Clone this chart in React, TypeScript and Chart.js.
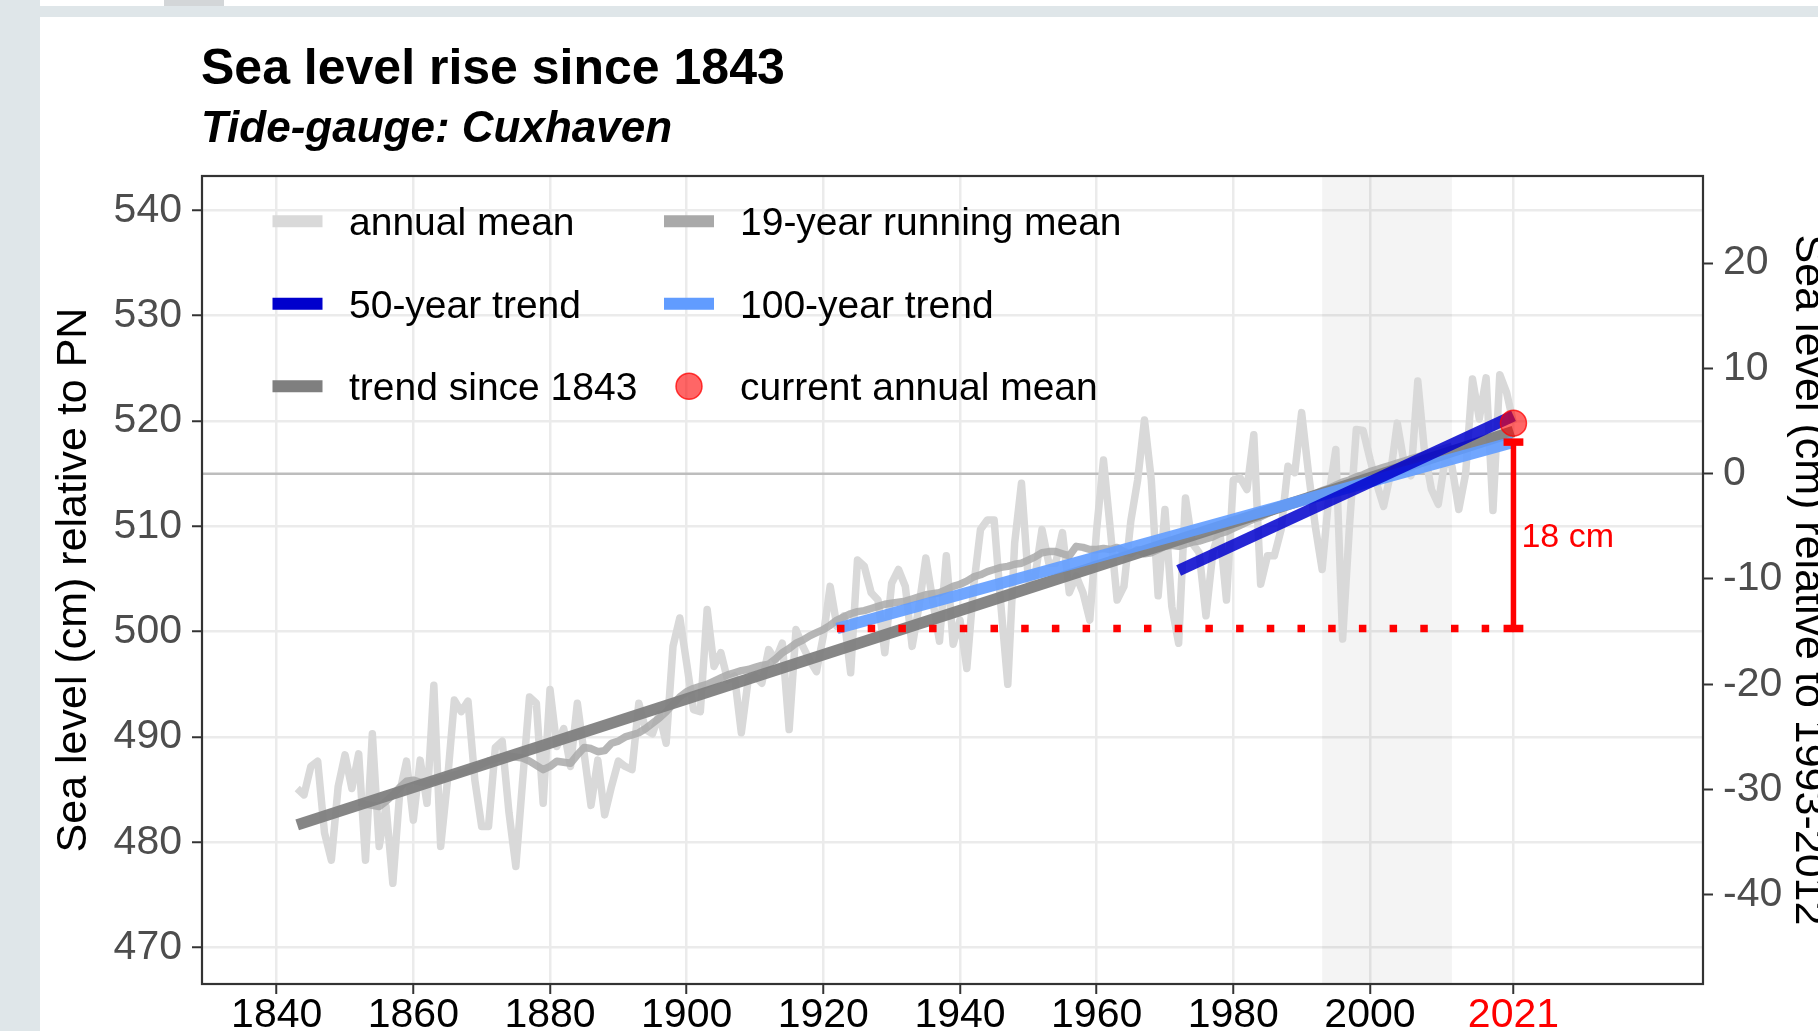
import React, { useEffect, useRef } from 'react';
import { Chart, registerables } from 'chart.js';

Chart.register(...registerables);

// ---------------- data ----------------
const ANNUAL_START = 1843;
const annualMean = [
  485.1, 484.5, 487.2, 487.7, 480.9, 478.3, 485.3,
  488.3, 485.1, 488.4, 478.3, 490.3, 479.6, 483.4, 476.1, 484.7, 487.7,
  482.1, 487.8, 483.7, 494.9, 479.6, 485.9, 493.5, 492.4, 493.4, 485.9,
  481.5, 481.5, 489.0, 489.6, 482.8, 477.7, 485.9, 493.8, 493.2, 483.7,
  494.5, 489.1, 490.8, 487.2, 493.2, 488.4, 483.5, 487.8, 482.6, 485.3,
  487.7, 487.2, 486.9, 493.2, 490.7, 490.3, 492.2, 489.4, 498.6, 501.3,
  497.0, 492.6, 492.4, 502.1, 496.7, 498.0, 495.4, 495.8, 490.4, 495.4,
  495.8, 495.1, 498.3, 497.3, 498.9, 490.7, 500.2, 498.6, 497.3, 496.2,
  499.6, 504.3, 500.5, 501.5, 496.1, 506.8, 506.2, 503.7, 503.0, 498.0,
  504.6, 505.9, 504.3, 498.6, 502.4, 507.0, 503.0, 499.1, 507.2, 498.8,
  501.1, 496.5, 504.3, 509.7, 510.6, 510.6, 502.4, 495.0, 508.4, 514.1,
  504.9, 505.3, 509.7, 506.5, 506.5, 509.4, 503.7, 505.3, 503.7, 501.1,
  509.7, 516.3, 509.7, 503.0, 504.3, 510.5, 514.4, 520.1, 514.4, 503.4,
  511.6, 502.4, 498.9, 512.7, 508.4, 507.5, 501.5, 507.5, 509.7, 503.0,
  514.4, 514.6, 513.5, 518.7, 504.5, 507.2, 507.2, 509.7, 515.7, 515.1,
  520.8, 515.1, 510.0, 505.9, 513.0, 517.3, 499.3, 510.0, 519.2, 519.1,
  516.4, 514.0, 511.9, 515.0, 519.8, 516.0, 514.8, 523.8, 517.0, 513.5,
  512.1, 516.4, 515.7, 511.6, 515.0, 524.0, 520.2, 524.1, 511.5, 524.4,
  522.7, 519.8,
];

const RUNNING_START = 1852;
const runningMean = [
  483.8, 483.6, 483.5, 483.4, 483.9, 484.5, 485.2, 485.8,
  485.9, 485.7, 485.6, 485.8, 486.0, 486.2, 486.4, 486.6, 486.8, 487.1,
  487.4, 487.7, 487.9, 488.1, 488.2, 488.1, 488.0, 487.7, 487.3, 486.9,
  487.2, 487.7, 487.6, 487.5, 488.3, 489.0, 488.9, 488.6, 488.7, 489.4,
  489.6, 490.0, 490.2, 490.4, 490.8, 491.3, 491.8, 492.4, 493.1, 493.8,
  494.3, 494.6, 494.8, 495.0, 495.3, 495.6, 495.9, 496.1, 496.3, 496.4,
  496.6, 496.8, 496.9, 497.4, 498.0, 498.4, 498.9, 499.2, 499.6, 499.9,
  500.2, 500.6, 501.1, 501.4, 501.7, 501.9, 502.0, 502.2, 502.4, 502.6,
  502.7, 502.8, 502.9, 503.1, 503.3, 503.5, 503.6, 503.7, 504.0, 504.3,
  504.5, 504.8, 505.2, 505.4, 505.7, 505.9, 506.1, 506.2, 506.4, 506.5,
  506.8, 507.1, 507.5, 507.6, 507.6, 507.4, 507.2, 508.1, 508.0, 507.8,
  507.8, 507.9, 507.8, 508.0, 507.6, 507.4, 507.8, 507.4, 507.5, 507.8,
  508.1, 508.2, 508.1, 508.3, 508.5, 508.6, 508.8, 509.0, 509.3, 509.5,
  509.8, 510.1, 510.4, 510.7, 510.9, 511.2, 511.5, 511.8, 512.1, 512.3,
  512.6, 512.9, 513.1, 513.4, 513.6, 513.9, 514.2, 514.4, 514.7, 514.9,
  515.2, 515.4, 515.6, 515.8, 516.0, 516.2, 516.4, 516.6, 516.8, 517.0,
  517.2, 517.4, 517.6,
];

const trendSinceYears = [1843, 2021];
const trendSinceValues = [481.65, 519.0];
const trend100Years = [1922, 2021];
const trend100Values = [500.3, 518.0];
const trend50Years = [1972, 2021];
const trend50Values = [505.8, 520.5];

const currentYear = 2021;
const currentValue = 519.8;
const riseLabel = '18 cm';

const referencePeriod = [1993, 2012];
const referenceLevel = 515; // 0 on the right axis (1993-2012 mean, PN scale)

const xTicks = [1840, 1860, 1880, 1900, 1920, 1940, 1960, 1980, 2000, 2021];
const yTicks = [470, 480, 490, 500, 510, 520, 530, 540];
const y2Ticks = [-40, -30, -20, -10, 0, 10, 20];

const legendItems = [
  { label: 'annual mean', kind: 'line', color: '#d9d9d9' },
  { label: '19-year running mean', kind: 'line', color: '#a9a9a9' },
  { label: '50-year trend', kind: 'line', color: '#0000cd' },
  { label: '100-year trend', kind: 'line', color: '#619cff' },
  { label: 'trend since 1843', kind: 'line', color: '#7f7f7f' },
  { label: 'current annual mean', kind: 'point', color: 'rgba(255,0,0,0.6)' },
];

// ---------------- layout / style ----------------
const W = 1818;
const H = 1031;
const X_MIN = 1829.07;
const X_MAX = 2048.74;
const Y_MIN = 466.54;
const Y_MAX = 543.27;
const FONT = '"Liberation Sans", Arial, Helvetica, sans-serif';
const CAP_HALF_YEARS = 1.45;

const pagePlugin = {
  id: 'pagePlugin',
  beforeDraw(chart: any) {
    const ctx = chart.ctx;
    ctx.save();
    ctx.fillStyle = '#ffffff';
    ctx.fillRect(0, 0, chart.width, chart.height);
    ctx.fillStyle = '#dfe6e9';
    ctx.fillRect(0, 0, 40, chart.height);
    ctx.fillRect(40, 6, chart.width - 40, 11);
    ctx.fillStyle = '#d3d6d8';
    ctx.fillRect(164, 0, 60, 6);
    ctx.restore();
  },
  beforeDatasetsDraw(chart: any) {
    const { ctx, chartArea: a, scales } = chart;
    const x = scales.x;
    const y = scales.y;
    ctx.save();
    ctx.beginPath();
    ctx.rect(a.left, a.top, a.right - a.left, a.bottom - a.top);
    ctx.clip();
    const x0 = x.getPixelForValue(referencePeriod[0]);
    const x1 = x.getPixelForValue(referencePeriod[1]);
    ctx.fillStyle = 'rgba(0,0,0,0.045)';
    ctx.fillRect(x0, a.top, x1 - x0, a.bottom - a.top);
    const yz = y.getPixelForValue(referenceLevel);
    ctx.strokeStyle = '#bdbdbd';
    ctx.lineWidth = 2.5;
    ctx.beginPath();
    ctx.moveTo(a.left, yz);
    ctx.lineTo(a.right, yz);
    ctx.stroke();
    ctx.restore();
  },
  afterDatasetsDraw(chart: any) {
    const { ctx, chartArea: a, scales } = chart;
    const x = scales.x;
    const y = scales.y;
    ctx.save();
    const mid = (trend100Values[0] + trend100Values[1]) / 2;
    ctx.fillStyle = '#ff0000';
    ctx.font = `34px ${FONT}`;
    ctx.textAlign = 'left';
    ctx.textBaseline = 'alphabetic';
    ctx.fillText(riseLabel, x.getPixelForValue(currentYear) + 8, y.getPixelForValue(mid) + 12);
    ctx.strokeStyle = '#333333';
    ctx.lineWidth = 2.2;
    ctx.strokeRect(a.left, a.top, a.right - a.left, a.bottom - a.top);
    ctx.restore();
  },
  afterDraw(chart: any) {
    const ctx = chart.ctx;
    ctx.save();
    ctx.fillStyle = '#000000';
    ctx.textAlign = 'left';
    ctx.textBaseline = 'alphabetic';
    ctx.font = `bold 50px ${FONT}`;
    ctx.fillText('Sea level rise since 1843', 201, 84);
    ctx.font = `italic bold 44px ${FONT}`;
    ctx.fillText('Tide-gauge: Cuxhaven', 201, 141.5);

    const colSample = [272.5, 664];
    const colLabel = [349, 740];
    const rowY = [221.3, 303.8, 386.3];
    ctx.font = `39px ${FONT}`;
    legendItems.forEach((it, i) => {
      const c = i % 2;
      const r = Math.floor(i / 2);
      const yy = rowY[r];
      if (it.kind === 'line') {
        ctx.strokeStyle = it.color;
        ctx.lineWidth = 12;
        ctx.lineCap = 'butt';
        ctx.beginPath();
        ctx.moveTo(colSample[c], yy);
        ctx.lineTo(colSample[c] + 50, yy);
        ctx.stroke();
      } else {
        ctx.fillStyle = it.color;
        ctx.strokeStyle = 'rgba(255,0,0,0.75)';
        ctx.lineWidth = 1.5;
        ctx.beginPath();
        ctx.arc(colSample[c] + 25, yy, 13, 0, Math.PI * 2);
        ctx.fill();
        ctx.stroke();
      }
      ctx.fillStyle = '#000000';
      ctx.fillText(it.label, colLabel[c], yy + 14);
    });
    ctx.restore();
  },
};

export default function App() {
  const ref = useRef<HTMLCanvasElement | null>(null);

  useEffect(() => {
    if (!ref.current) return;
    const lineBase = {
      pointRadius: 0,
      pointHoverRadius: 0,
      tension: 0,
      fill: false,
      borderCapStyle: 'butt' as const,
      borderJoinStyle: 'round' as const,
    };
    const chart = new Chart(ref.current, {
      type: 'line',
      data: {
        datasets: [
          {
            ...lineBase,
            label: 'annual mean',
            data: annualMean.map((v, i) => ({ x: ANNUAL_START + i, y: v })),
            borderColor: '#d9d9d9',
            borderWidth: 7.5,
            order: 9,
          },
          {
            ...lineBase,
            label: '19-year running mean',
            data: runningMean.map((v, i) => ({ x: RUNNING_START + i, y: v })),
            borderColor: 'rgba(169,169,169,0.85)',
            borderWidth: 7.5,
            order: 8,
          },
          {
            ...lineBase,
            label: 'trend since 1843',
            data: trendSinceYears.map((yr, i) => ({ x: yr, y: trendSinceValues[i] })),
            borderColor: 'rgba(127,127,127,0.95)',
            borderWidth: 11.5,
            order: 7,
          },
          {
            ...lineBase,
            label: '100-year trend',
            data: trend100Years.map((yr, i) => ({ x: yr, y: trend100Values[i] })),
            borderColor: 'rgba(97,156,255,0.9)',
            borderWidth: 11.5,
            order: 6,
          },
          {
            ...lineBase,
            label: '50-year trend',
            data: trend50Years.map((yr, i) => ({ x: yr, y: trend50Values[i] })),
            borderColor: 'rgba(0,0,205,0.85)',
            borderWidth: 11.5,
            order: 5,
          },
          {
            ...lineBase,
            label: 'baseline',
            data: [
              { x: trend100Years[0], y: trend100Values[0] },
              { x: currentYear, y: trend100Values[0] },
            ],
            borderColor: '#ff0000',
            borderWidth: 7.5,
            borderDash: [7.5, 23.2],
            order: 4,
          },
          {
            ...lineBase,
            label: 'rise',
            data: [
              { x: currentYear, y: trend100Values[0] },
              { x: currentYear, y: trend100Values[1] },
            ],
            borderColor: '#ff0000',
            borderWidth: 5.5,
            order: 3,
          },
          {
            ...lineBase,
            label: 'rise cap low',
            data: [
              { x: currentYear - CAP_HALF_YEARS, y: trend100Values[0] },
              { x: currentYear + CAP_HALF_YEARS, y: trend100Values[0] },
            ],
            borderColor: '#ff0000',
            borderWidth: 7.5,
            order: 3,
          },
          {
            ...lineBase,
            label: 'rise cap high',
            data: [
              { x: currentYear - CAP_HALF_YEARS, y: trend100Values[1] },
              { x: currentYear + CAP_HALF_YEARS, y: trend100Values[1] },
            ],
            borderColor: '#ff0000',
            borderWidth: 7.5,
            order: 3,
          },
          {
            label: 'current annual mean',
            data: [{ x: currentYear, y: currentValue }],
            showLine: false,
            pointRadius: 13,
            pointHoverRadius: 13,
            pointBackgroundColor: 'rgba(255,0,0,0.6)',
            pointBorderColor: 'rgba(255,0,0,0.75)',
            pointBorderWidth: 1.5,
            order: 1,
          },
        ],
      },
      options: {
        responsive: false,
        animation: false,
        devicePixelRatio: 1,
        events: [],
        layout: { padding: { top: 176, left: 0, right: 0, bottom: 0 } },
        plugins: {
          legend: { display: false },
          title: { display: false },
          tooltip: { enabled: false },
        },
        scales: {
          x: {
            type: 'linear',
            position: 'bottom',
            min: X_MIN,
            max: X_MAX,
            afterBuildTicks: (s: any) => {
              s.ticks = xTicks.map((v) => ({ value: v }));
            },
            afterFit: (s: any) => {
              s.height = H - 984;
            },
            grid: {
              color: '#ebebeb',
              lineWidth: 2.5,
              drawTicks: true,
              tickLength: 10,
              tickColor: '#333333',
              tickWidth: 2,
            },
            border: { display: false },
            ticks: {
              autoSkip: false,
              maxRotation: 0,
              minRotation: 0,
              padding: 1,
              color: (c: any) => (c.tick && c.tick.value === currentYear ? '#ff0000' : '#000000'),
              font: { family: FONT, size: 41, lineHeight: 1 },
              callback: (v: any) => String(v),
            },
          },
          y: {
            type: 'linear',
            position: 'left',
            min: Y_MIN,
            max: Y_MAX,
            afterBuildTicks: (s: any) => {
              s.ticks = yTicks.map((v) => ({ value: v }));
            },
            afterFit: (s: any) => {
              s.width = 202;
            },
            grid: {
              color: '#ebebeb',
              lineWidth: 2.5,
              drawTicks: true,
              tickLength: 10,
              tickColor: '#333333',
              tickWidth: 2,
            },
            border: { display: false },
            ticks: {
              autoSkip: false,
              padding: 10,
              color: '#4d4d4d',
              font: { family: FONT, size: 41 },
              callback: (v: any) => String(v),
            },
            title: {
              display: true,
              text: 'Sea level (cm) relative to PN',
              color: '#000000',
              font: { family: FONT, size: 43 },
              padding: { top: 48.3, bottom: 0 },
            },
          },
          y2: {
            type: 'linear',
            position: 'right',
            min: Y_MIN - referenceLevel,
            max: Y_MAX - referenceLevel,
            afterBuildTicks: (s: any) => {
              s.ticks = y2Ticks.map((v) => ({ value: v }));
            },
            afterFit: (s: any) => {
              s.width = W - 1703;
            },
            grid: {
              drawOnChartArea: false,
              drawTicks: true,
              tickLength: 10,
              tickColor: '#333333',
              tickWidth: 2,
            },
            border: { display: false },
            ticks: {
              autoSkip: false,
              padding: 10,
              color: '#4d4d4d',
              font: { family: FONT, size: 41 },
              callback: (v: any) => String(v),
            },
            title: {
              display: true,
              text: 'Sea level (cm) relative to 1993-2012',
              color: '#000000',
              font: { family: FONT, size: 43 },
              padding: { top: -15.8, bottom: 0 },
            },
          },
        },
      } as any,
      plugins: [pagePlugin],
    });
    return () => {
      chart.destroy();
    };
  }, []);

  return (
    <div
      style={{
        position: 'absolute',
        left: 0,
        top: 0,
        width: W,
        height: H,
        overflow: 'hidden',
        background: '#ffffff',
      }}
    >
      <canvas ref={ref} width={W} height={H} style={{ display: 'block' }} />
    </div>
  );
}
